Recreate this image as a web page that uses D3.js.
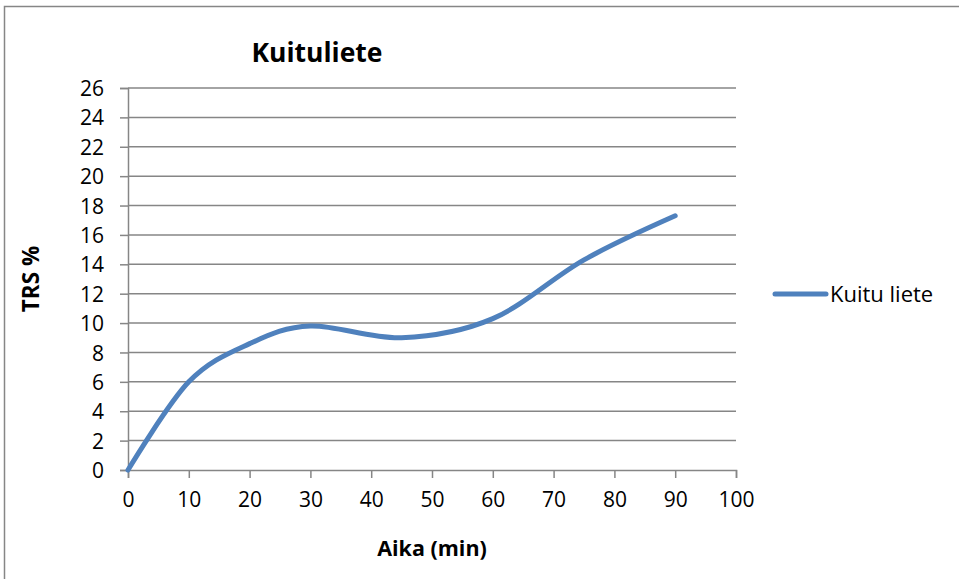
<!DOCTYPE html>
<html>
<head>
<meta charset="utf-8">
<script src="https://cdn.jsdelivr.net/npm/d3@7"></script>
<style>
  body { margin: 0; background: #fff; }
  text { font-family: "Open Sans", sans-serif; fill: #000; }
</style>
</head>
<body>
<svg id="chart" width="959" height="579"></svg>
<script>
// values
let minutes = [0, 10, 20, 30, 45, 60, 75, 90],
    trs = [0, 6.0, 8.6, 9.8, 9.0, 10.3, 14.3, 17.3],
    xTicks = d3.range(0, 101, 10),
    yTicks = d3.range(0, 27, 2);

let seriesName = "Kuitu liete",
    title = "Kuituliete";

let blue = "#4f81bd",
    grid = "#868686";

// small stand-in for d3-selection-multi
d3.selection.prototype.attrs = function(obj) {
  Object.keys(obj).forEach(k => this.attr(k, obj[k]));
  return this;
};

function make_scales() {
  return {
    x: d3.scaleLinear().domain([0, 100]).range([128, 736]),
    y: d3.scaleLinear().domain([0, 26]).range([470, 88])
  }
}

function draw() {
  let svg = d3.select("#chart");
  let s = make_scales();
  let data = minutes.map((m, i) => ({m: m, v: trs[i]}));

  // outer frame of the chart object
  svg.append("rect")
    .attrs({x: 4.5, y: 6.5, width: 1000, height: 1000, fill: "none", stroke: grid, "stroke-width": 1.5});

  // horizontal gridlines
  svg.append("g")
    .selectAll("line")
    .data(yTicks.filter(d => d > 0)).enter()
    .append("line")
    .attrs({x1: 128, x2: 736, y1: d => s.y(d), y2: d => s.y(d), stroke: grid, "stroke-width": 1.5});

  // axes
  let yAxis = d3.axisLeft(s.y).tickValues(yTicks).tickSize(8).tickPadding(16);
  let xAxis = d3.axisBottom(s.x).tickValues(xTicks).tickSize(8).tickPadding(14);

  let gy = svg.append("g").attr("transform", "translate(128,0)").call(yAxis);
  let gx = svg.append("g").attr("transform", "translate(0,470)").call(xAxis);

  [gx, gy].forEach(g => {
    g.select(".domain").attrs({stroke: grid, "stroke-width": 1.5});
    g.selectAll(".tick line").attrs({stroke: grid, "stroke-width": 1.5});
    g.selectAll(".tick text").attrs({"font-size": 21, "font-family": "Open Sans", fill: "#000"});
  });
  gy.selectAll(".tick text").attr("dy", "0.36em");

  // smoothed series (Excel style)
  let line = d3.line()
    .x(d => s.x(d.m))
    .y(d => s.y(d.v))
    .curve(d3.curveCardinal.tension(0));

  svg.append("path")
    .datum(data)
    .attrs({d: line, fill: "none", stroke: blue, "stroke-width": 5, "stroke-linecap": "round", "stroke-linejoin": "round"});

  // title and axis titles
  svg.append("text")
    .attrs({x: 317, y: 62, "text-anchor": "middle", "font-size": 26.5, "font-weight": "bold"})
    .text(title);

  svg.append("text")
    .attrs({x: 432, y: 556, "text-anchor": "middle", "font-size": 21.5, "font-weight": "bold"})
    .text("Aika (min)");

  svg.append("text")
    .attrs({transform: "translate(39,279) rotate(-90)", "text-anchor": "middle", "font-size": 22.5, "font-weight": "bold"})
    .text("TRS %");

  // legend
  svg.append("line")
    .attrs({x1: 775, x2: 826, y1: 294, y2: 294, stroke: blue, "stroke-width": 5, "stroke-linecap": "round"});
  svg.append("text")
    .attrs({x: 830, y: 302, "font-size": 22})
    .text(seriesName);
}

draw();
</script>
</body>
</html>
